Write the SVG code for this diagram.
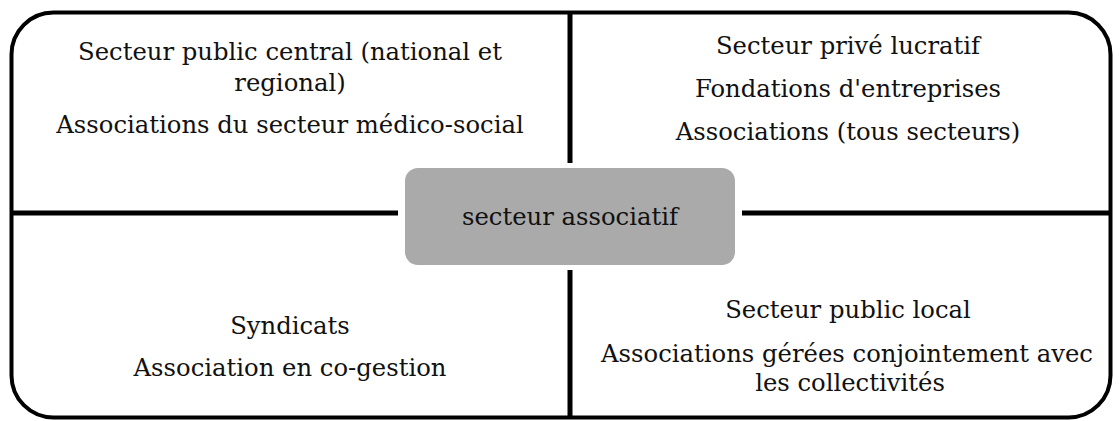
<svg xmlns="http://www.w3.org/2000/svg" width="1120" height="421" viewBox="0 0 1120 421">
<style>
text{font-family:"DejaVu Serif","Liberation Serif",serif;font-size:24.3px;fill:#111;text-anchor:middle}
.ln{stroke:#000;stroke-width:5;fill:none}
</style>
<rect width="1120" height="421" fill="#fff"/>
<g id="frame"><rect x="11.5" y="12.5" width="1099" height="405" rx="42" ry="42" fill="none" stroke="#000" stroke-width="4"/></g>
<g id="connectors">
<line class="ln" x1="570" y1="12" x2="570" y2="163"/>
<line class="ln" x1="570" y1="270" x2="570" y2="418"/>
<line class="ln" x1="11" y1="213" x2="398" y2="213"/>
<line class="ln" x1="742" y1="213" x2="1111" y2="213"/>
</g>
<g id="center"><rect x="405" y="168" width="330" height="97" rx="13" fill="#aaa"/><text x="570" y="225">secteur associatif</text></g>
<g id="topleft"><text x="290" y="60">Secteur public central (national et</text><text x="290" y="91">regional)</text><text x="290" y="133">Associations du secteur médico-social</text></g>
<g id="topright"><text x="848" y="54">Secteur privé lucratif</text><text x="848" y="97">Fondations d'entreprises</text><text x="848" y="140">Associations (tous secteurs)</text></g>
<g id="bottomleft"><text x="290" y="334">Syndicats</text><text x="290" y="376">Association en co-gestion</text></g>
<g id="bottomright"><text x="848" y="318">Secteur public local</text><text x="847" y="362">Associations gérées conjointement avec</text><text x="850" y="391">les collectivités</text></g>
</svg>
